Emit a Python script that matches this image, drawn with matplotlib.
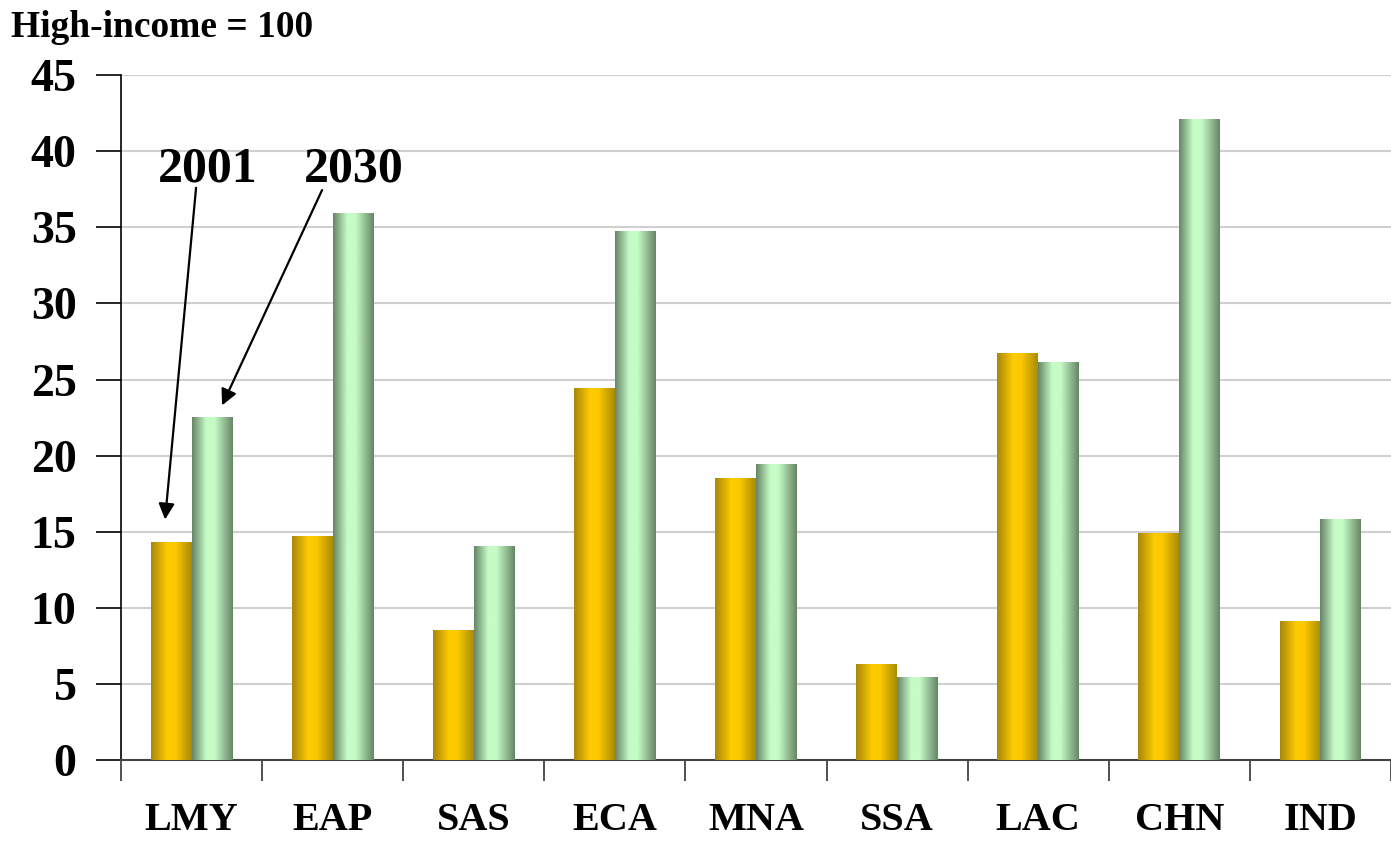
import matplotlib.pyplot as plt
import matplotlib.colors as mcolors
import numpy as np

regions = ['LMY', 'EAP', 'SAS', 'ECA', 'MNA', 'SSA', 'LAC', 'CHN', 'IND']
vals_2001 = [14.3, 14.7, 8.5, 24.4, 18.5, 6.3, 26.7, 14.9, 9.1]
vals_2030 = [22.5, 35.9, 14.0, 34.7, 19.4, 5.4, 26.1, 42.1, 15.8]
yticks = [0, 5, 10, 15, 20, 25, 30, 35, 40, 45]

plt.rcParams['font.family'] = ['Liberation Serif', 'DejaVu Serif']
plt.rcParams['font.weight'] = 'bold'

fig = plt.figure(figsize=(13.91, 8.44), dpi=100)
ax = fig.add_axes([0.087, 0.0995, 0.913, 0.8115])

x = np.arange(len(regions)) + 0.5
w = 0.29
bars1 = ax.bar(x - w / 2, vals_2001, w, color='none', zorder=3)
bars2 = ax.bar(x + w / 2, vals_2030, w, color='none', zorder=3)

# cylinder-like horizontal gradients
gold = mcolors.LinearSegmentedColormap.from_list(
    'gold', [(0, '#a8860a'), (0.4, '#ffcc00'), (0.6, '#fcc800'), (1, '#a88a06')])
green = mcolors.LinearSegmentedColormap.from_list(
    'green', [(0, '#668466'), (0.35, '#c6fcc6'), (0.55, '#c6fcc6'), (1, '#668466')])
grad = np.linspace(0, 1, 256).reshape(1, -1)
for bars, cmap in ((bars1, gold), (bars2, green)):
    for b in bars:
        x0, h, bw = b.get_x(), b.get_height(), b.get_width()
        ax.imshow(grad, cmap=cmap, aspect='auto', extent=(x0, x0 + bw, 0, h),
                  zorder=3, interpolation='bicubic')

ax.set_xlim(0, len(regions))
ax.set_ylim(0, 45)
ax.set_yticks(yticks)
ax.set_yticklabels([str(t) for t in yticks], fontsize=33, fontweight='bold')
ax.set_xticks(np.arange(len(regions) + 1))
ax.set_xticklabels([])
ax.set_xticks(x, minor=True)
ax.set_xticklabels(regions, minor=True, fontsize=29, fontweight='bold')
ax.tick_params(axis='x', which='minor', length=0, pad=30)
ax.tick_params(axis='x', which='major', length=15, width=1.2, direction='out', color='#333333')
ax.tick_params(axis='y', length=18, width=1.2, direction='out', pad=14)

ax.grid(axis='y', color='#d0d0d0', linewidth=1.5, zorder=0)
ax.set_axisbelow(True)
ax.spines['top'].set_visible(False)
ax.spines['right'].set_visible(False)
ax.spines['left'].set_linewidth(1.2)
ax.spines['bottom'].set_linewidth(1.5)
ax.spines['bottom'].set_color('#444444')

fig.text(0.008, 0.967, 'High-income = 100', fontsize=27, fontweight='bold', va='center')

# year labels with arrows to the first group
ax.text(x[0] + 0.117, 38.8, '2001', fontsize=36, fontweight='bold', ha='center', va='center')
ax.text(x[0] + 1.151, 38.8, '2030', fontsize=36, fontweight='bold', ha='center', va='center')
arrow = dict(arrowstyle='-|>', color='black', lw=1.6, mutation_scale=24,
             shrinkA=0, shrinkB=0)
ax.annotate('', xy=(x[0] - 0.188, 15.8), xytext=(x[0] + 0.032, 37.6), arrowprops=arrow)
ax.annotate('', xy=(x[0] + 0.216, 23.3), xytext=(x[0] + 0.925, 37.45), arrowprops=arrow)

fig.savefig('out.png', dpi=100)
